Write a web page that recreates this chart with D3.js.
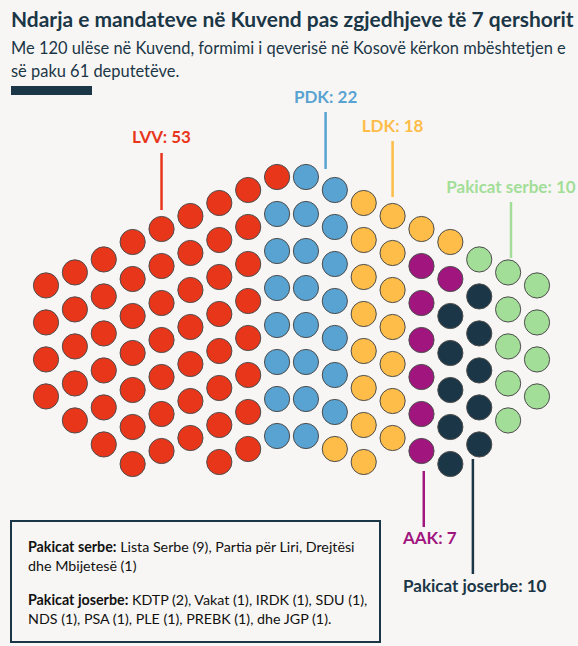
<!DOCTYPE html>
<html>
<head>
<meta charset="utf-8">
<script src="https://cdn.jsdelivr.net/npm/d3@7"></script>
<style>
  html, body { margin: 0; padding: 0; background: #f8f6f4; }
  svg { display: block; font-family: Lato, "Noto Sans", sans-serif; }
</style>
</head>
<body>
<svg id="chart"></svg>
<script>
// Parties and seat totals
const parties = ["LVV", "PDK", "LDK", "AAK", "Pakicat joserbe", "Pakicat serbe"];
const seatTotals = [53, 22, 18, 7, 10, 10];
const partyColors = ["#e8361b", "#58a3d2", "#fdbd48", "#a0157e", "#1b3747", "#a2de98"];

// Seats per column, left to right, top to bottom: [party, count]
const columns = [
  [["LVV", 4]],
  [["LVV", 5]],
  [["LVV", 6]],
  [["LVV", 7]],
  [["LVV", 7]],
  [["LVV", 7]],
  [["LVV", 8]],
  [["LVV", 8]],
  [["LVV", 1], ["PDK", 7]],
  [["PDK", 8]],
  [["PDK", 7], ["LDK", 1]],
  [["LDK", 8]],
  [["LDK", 7]],
  [["LDK", 1], ["AAK", 6]],
  [["LDK", 1], ["AAK", 1], ["Pakicat joserbe", 5]],
  [["Pakicat serbe", 1], ["Pakicat joserbe", 5]],
  [["Pakicat serbe", 5]],
  [["Pakicat serbe", 4]]
];

const titleText = "Ndarja e mandateve në Kuvend pas zgjedhjeve të 7 qershorit";
const subtitleLines = [
  "Me 120 ulëse në Kuvend, formimi i qeverisë në Kosovë kërkon mbështetjen e",
  "së paku 61 deputetëve."
];
const noteLines = [
  [["Pakicat serbe:", true], [" Lista Serbe (9), Partia për Liri, Drejtësi", false]],
  [["dhe Mbijetesë (1)", false]],
  [["Pakicat joserbe:", true], [" KDTP (2), Vakat (1), IRDK (1), SDU (1),", false]],
  [["NDS (1), PSA (1), PLE (1), PREBK (1), dhe JGP (1).", false]]
];

const width = 578;
const height = 646;
const ink = "#1b3747";

const svg = d3.select("#chart").attr("width", width).attr("height", height);

const color = d3.scaleOrdinal().domain(parties).range(partyColors);

// column index -> x, row units -> y (grid is skewed away from the centre)
const xScale = d3.scaleLinear().domain([0, columns.length - 1]).range([46, 537]);
const yScale = d3.scaleLinear().domain([0, 1]).range([177, 214]);
const skew = 13 / 37;
const mid = (columns.length - 1) / 2;

const seats = [];
columns.forEach((col, i) => {
  const k = Math.floor(Math.abs(i - mid));
  const n = d3.sum(col, (d) => d[1]);
  const shift = k * skew + (n < 7 ? 0.12 : 0);
  let j = 0;
  col.forEach(([party, count]) => {
    for (let c = 0; c < count; c++) {
      seats.push({ party, col: i, row: j + shift });
      j++;
    }
  });
});

// Title
svg.append("text")
  .attr("x", 11).attr("y", 27)
  .style("font-size", "20px").style("font-weight", 700).style("fill", ink)
  .text(titleText)
  .call(fit, 563);

svg.selectAll(".subtitle")
  .data(subtitleLines)
  .enter()
  .append("text")
  .attr("class", "subtitle")
  .attr("x", 11)
  .attr("y", (d, i) => 54 + i * 23)
  .style("font-size", "16px").style("fill", ink)
  .text((d) => d);
fitGroup(svg.selectAll(".subtitle"), 555);

svg.append("rect")
  .attr("x", 11).attr("y", 86).attr("width", 81).attr("height", 9)
  .attr("fill", ink);

// Seats
svg.selectAll(".seat")
  .data(seats)
  .enter()
  .append("circle")
  .attr("class", "seat")
  .attr("cx", (d) => xScale(d.col))
  .attr("cy", (d) => yScale(d.row))
  .attr("r", 12.6)
  .attr("fill", (d) => color(d.party))
  .attr("stroke", "#4d4d4d")
  .attr("stroke-width", 1);

// Annotations
const labels = [
  { party: "LVV", col: 4, y1: 153, y2: 210, ty: 143, anchor: "middle" },
  { party: "PDK", col: 9.68, y1: 112, y2: 169, ty: 103, anchor: "middle" },
  { party: "LDK", col: 12, y1: 141, y2: 197, ty: 132, anchor: "middle" },
  { party: "Pakicat serbe", col: 16.1, y1: 202, y2: 258, ty: 193, anchor: "middle" },
  { party: "AAK", col: 13.08, y1: 471, y2: 527, ty: 544, anchor: "start", tx: 403 },
  { party: "Pakicat joserbe", col: 14.78, y1: 459, y2: 574, ty: 592, anchor: "start", tx: 403 }
];

const ann = svg.selectAll(".ann").data(labels).enter().append("g").attr("class", "ann");

ann.append("line")
  .attr("x1", (d) => xScale(d.col)).attr("x2", (d) => xScale(d.col))
  .attr("y1", (d) => d.y1).attr("y2", (d) => d.y2)
  .attr("stroke", (d) => color(d.party))
  .attr("stroke-width", 2.5);

ann.append("text")
  .attr("x", (d) => (d.tx != null ? d.tx : xScale(d.col)))
  .attr("y", (d) => d.ty)
  .attr("text-anchor", (d) => d.anchor)
  .style("font-size", "17px").style("font-weight", 700)
  .style("fill", (d) => color(d.party))
  .text((d) => `${d.party}: ${seatTotals[parties.indexOf(d.party)]}`);

// Note box
svg.append("rect")
  .attr("x", 11).attr("y", 521).attr("width", 369).attr("height", 121)
  .attr("fill", "none").attr("stroke", ink).attr("stroke-width", 2);

const note = svg.selectAll(".note")
  .data(noteLines)
  .enter()
  .append("text")
  .attr("class", "note")
  .attr("x", 28)
  .attr("y", (d, i) => [552, 571, 605, 624][i])
  .style("font-size", "14px").style("fill", "#111");

note.selectAll("tspan")
  .data((d) => d)
  .enter()
  .append("tspan")
  .style("font-weight", (d) => (d[1] ? 700 : 400))
  .text((d) => d[0]);

fitGroup(svg.selectAll(".note").filter((d, i) => i === 0), 327);
const noteSize = svg.select(".note").style("font-size");
svg.selectAll(".note").style("font-size", noteSize);

function fit(sel, target) {
  const node = sel.node();
  const w = node.getComputedTextLength();
  const fs = parseFloat(sel.style("font-size"));
  sel.style("font-size", `${(fs * target) / w}px`);
}

function fitGroup(sel, target) {
  const first = d3.select(sel.node());
  fit(first, target);
  sel.style("font-size", first.style("font-size"));
}
</script>
</body>
</html>
